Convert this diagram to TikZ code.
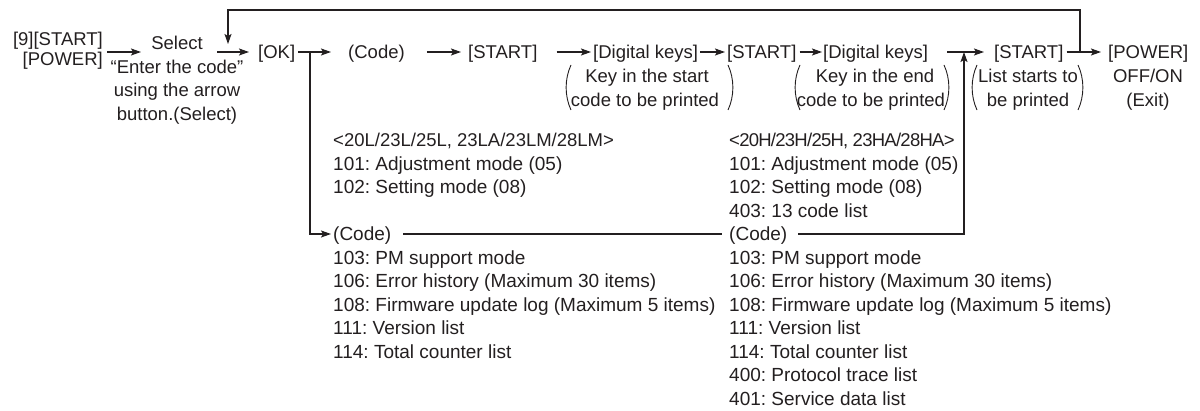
\documentclass[tikz,border=0pt]{standalone}
\usepackage{fontspec}
\setmainfont{Liberation Sans}
\usetikzlibrary{arrows.meta}
\definecolor{ink}{RGB}{35,31,32}
\begin{document}
\begin{tikzpicture}[x=1pt,y=-1pt,
  font=\fontsize{18.5}{23.5}\selectfont\frenchspacing,
  t/.style={inner sep=0pt,text height=13.2pt,text depth=0pt,text=ink},
  tw/.style={t,anchor=west},
  tc/.style={t,anchor=center},
  te/.style={t,anchor=east},
  lst/.style={tw,font=\fontsize{19}{23.5}\selectfont\frenchspacing},
  arr/.style={draw=ink,line width=1.2pt,-{Stealth[length=10pt,width=7pt,inset=2pt]}},
  ln/.style={draw=ink,line width=1.2pt},
  paren/.style={draw=ink,line width=0.9pt}]
\useasboundingbox (0,0) rectangle (1200,411);

% left column
\node[te] (s9) at (103,38.5) {[9][START]};
\node[te] (pw) at (103,58.5) {[POWER]};
\node[tc] (sel1) at (177,43) {Select};
\node[tc] (sel2) at (177,66.5) {“Enter the code”};
\node[tc] (sel3) at (177,90) {using the arrow};
\node[tc] (sel4) at (177,113.5) {button.(Select)};

% main row
\node[tw] (ok) at (258,52) {[OK]};
\node[tw] (codeA) at (348,52) {(Code)};
\node[tw] (st1) at (468,52) {[START]};
\node[tw] (dk1) at (593,52) {[Digital keys]};
\node[tw] (st2) at (727,52) {[START]};
\node[tw] (dk2) at (823,52) {[Digital keys]};
\node[tw] (st3) at (994,52) {[START]};
\node[tw] (pwr) at (1108,52) {[POWER]};
\node[tc] (off) at (1148,76) {OFF/ON};
\node[tc] (ext) at (1148,99.5) {(Exit)};

% sub texts
\node[tc] (k1a) at (647,76) {Key in the start};
\node[tc] (k1b) at (645,99.5) {code to be printed};
\node[tc] (k2a) at (875,76) {Key in the end};
\node[tc] (k2b) at (871,99.5) {code to be printed};
\node[tc] (l3a) at (1028,76) {List starts to};
\node[tc] (l3b) at (1028,99.5) {be printed};

% parentheses
\foreach \xl/\xr in {566/733, 795/949, 972/1083}{
  \draw[paren] (\xl+5,65) .. controls (\xl-1.5,79) and (\xl-1.5,96) .. (\xl+5,110);
  \draw[paren] (\xr-5,65) .. controls (\xr+1.5,79) and (\xr+1.5,96) .. (\xr-5,110);
}

% left list
\node[tw] (hL) at (333,140) {<20L/23L/25L, 23LA/23LM/28LM>};
\node[lst] (L101) at (333,163.5) {101: Adjustment mode (05)};
\node[lst] (L102) at (333,187) {102: Setting mode (08)};
\node[lst] (codeL) at (333,234) {(Code)};
\node[lst] (L103) at (333,257.5) {103: PM support mode};
\node[lst] (L106) at (333,281) {106: Error history (Maximum 30 items)};
\node[lst] (L108) at (333,304.5) {108: Firmware update log (Maximum 5 items)};
\node[lst] (L111) at (333,328) {111: Version list};
\node[lst] (L114) at (333,351.5) {114: Total counter list};

% right list
\node[tw] (hR) at (729,140) {\addfontfeatures{LetterSpace=-4}<20H/23H/25H, 23HA/28HA>};
\node[lst] (R101) at (729,163.5) {101: Adjustment mode (05)};
\node[lst] (R102) at (729,187) {102: Setting mode (08)};
\node[lst] (R403) at (729,210.5) {403: 13 code list};
\node[lst] (codeR) at (729,234) {(Code)};
\node[lst] (R103) at (729,257.5) {103: PM support mode};
\node[lst] (R106) at (729,281) {106: Error history (Maximum 30 items)};
\node[lst] (R108) at (729,304.5) {108: Firmware update log (Maximum 5 items)};
\node[lst] (R111) at (729,328) {111: Version list};
\node[lst] (R114) at (729,351.5) {114: Total counter list};
\node[lst] (R400) at (729,375) {400: Protocol trace list};
\node[lst] (R401) at (729,398.5) {401: Service data list};

% connectors
\coordinate (a1s) at (107,52);
\coordinate (a1e) at (141,52);
\coordinate (a2s) at (217,52);
\coordinate (jOK) at (310,52);
\coordinate (j8) at (964,52);
\coordinate (j9) at (1080,52);
\coordinate (loopE) at (228,44);

\draw[arr] (a1s) -- (a1e);
\draw[arr] (a2s) -- ([xshift=-9pt]ok.west);
\draw[arr] ([xshift=3pt]ok.east) -- ([xshift=-17pt]codeA.west);
\draw[arr] ([xshift=22pt]codeA.east) -- ([xshift=-7pt]st1.west);
\draw[arr] ([xshift=19pt]st1.east) -- ([xshift=-2pt]dk1.west);
\draw[arr] ([xshift=2pt]dk1.east) -- ([xshift=-2pt]st2.west);
\draw[arr] ([xshift=3pt]st2.east) -- ([xshift=-1pt]dk2.west);
\draw[arr] ([xshift=19pt]dk2.east) -- ([xshift=-10pt]st3.west);
\draw[arr] ([xshift=3pt]st3.east) -- ([xshift=-7pt]pwr.west);

\draw[arr] (j9) -- ++(0,-42) -| (loopE);
\draw[arr] (jOK) |- ([xshift=-2pt]codeL.west);
\draw[ln] ([xshift=12pt]codeL.east) -- ([xshift=-7pt]codeR.west);
\draw[arr] ([xshift=11pt]codeR.east) -| (j8);
\end{tikzpicture}
\end{document}
